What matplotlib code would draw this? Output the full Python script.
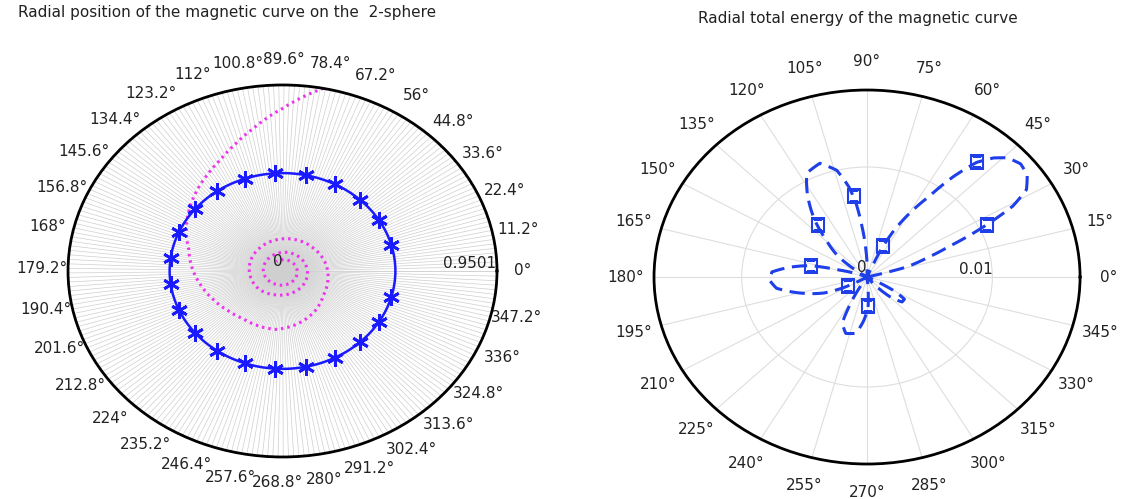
import numpy as np
import matplotlib.pyplot as plt

# left panel: radial position on the 2-sphere
star_top = [15.4, 31.1, 46.8, 62.5, 78.2, 93.9, 109.6, 125.3, 141.0, 156.7, 172.4]
star_theta = star_top + [360 - a for a in star_top[::-1]]
star_r = [0.5] * len(star_theta)

spiral_theta = [79, 90, 100, 108, 116, 125, 135, 145, 155, 165, 178, 191, 205, 220,
                234, 250, 264, 278, 290, 305, 325, 340, 360, 380, 400, 430, 454, 490,
                524, 580, 617, 650, 690, 720, 780, 840, 900, 960, 1020, 1080, 1140, 1200]
spiral_r = [0.9501, 0.83, 0.74, 0.68, 0.63, 0.59, 0.55, 0.51, 0.47, 0.43, 0.40, 0.37,
            0.34, 0.315, 0.30, 0.30, 0.30, 0.285, 0.27, 0.25, 0.22, 0.21, 0.20, 0.19,
            0.18, 0.17, 0.163, 0.155, 0.15, 0.14, 0.125, 0.12, 0.115, 0.11, 0.10, 0.09,
            0.085, 0.075, 0.07, 0.065, 0.06, 0.055]
r_max_left = 0.9501
left_ticks = [round(k * 11.2, 1) for k in range(32)]

# right panel: radial total energy
energy_theta = [0, 14, 16, 20, 23, 26, 29, 32, 36, 40, 44, 47, 50, 53, 56, 60, 63, 66, 68,
                88, 92, 95, 97.5, 100, 104, 110, 117, 122, 129, 134, 141, 148,
                158, 164, 167, 172, 176.5, 182, 188, 197, 203, 207, 211,
                236, 242, 244.6, 251.7, 260, 266.5, 272, 276,
                308, 312, 316, 321, 326, 330, 334, 360]
energy = [0, 0, 0.0032, 0.0051, 0.0071, 0.0102, 0.0133, 0.0150, 0.0158, 0.0160, 0.0156,
          0.0148, 0.0136, 0.0114, 0.0088, 0.0065, 0.0048, 0.0026, 0,
          0, 0.0024, 0.0046, 0.0068, 0.0083, 0.0100, 0.0110, 0.0106, 0.0090, 0.0066,
          0.0047, 0.0029, 0,
          0, 0.0023, 0.0046, 0.0063, 0.0076, 0.0078, 0.0073, 0.0051, 0.0037, 0.0022, 0,
          0, 0.0031, 0.0046, 0.0054, 0.0052, 0.0039, 0.0026, 0,
          0, 0.0014, 0.0027, 0.0036, 0.0036, 0.0024, 0, 0]
square_theta = [50, 26.3, 98, 129.6, 65.7, 167, 208, 272]
square_energy = [0.0136, 0.0107, 0.0074, 0.0061, 0.0031, 0.0046, 0.0017, 0.0026]
r_max_right = 0.017
right_ticks = list(range(0, 360, 15))

fig = plt.figure(figsize=(11.28, 4.99), dpi=100)
tick_fs = 11
txt = '#222222'


def smooth(line, steps=24):
    # let the polar transform bend each segment in (theta, r) space
    line.get_path()._interpolation_steps = steps
    return line


#Left_panel
ax1 = fig.add_axes([0.0603, 0.0842, 0.3803, 0.7455], projection='polar')
ax1.set_aspect('auto')
ax1.set_xticks(np.deg2rad(left_ticks))
ax1.set_xticklabels(['%g°' % t for t in left_ticks], fontsize=tick_fs, color=txt)
ax1.set_xticks(np.deg2rad(np.arange(0, 360, 1.4)), minor=True)
ax1.grid(which='both', axis='x', color='#cfcfcf', linewidth=0.5)
ax1.set_yticks([])
ax1.set_ylim(0, r_max_left)
ax1.tick_params(axis='x', which='major', pad=8)
ax1.tick_params(axis='x', which='minor', length=0)
ax1.spines['polar'].set_linewidth(2)
l, = ax1.plot(np.deg2rad(spiral_theta), spiral_r, color='#ee33ee',
              linestyle=(0, (0.8, 1.3)), linewidth=2.2)
smooth(l)
ring = star_theta + [star_theta[0] + 360]
l, = ax1.plot(np.deg2rad(ring), [0.5] * len(ring), color='#1a1aff', linewidth=1.8)
smooth(l)
ax1.plot(np.deg2rad(star_theta), star_r, linestyle='none', marker=(6, 2, 0),
         markersize=12, markeredgewidth=2, color='#1a1aff')
ax1.text(0, r_max_left * 0.995, '0.9501', ha='right', va='bottom', fontsize=tick_fs, color=txt)
ax1.text(np.pi / 2, 0.01, '0', ha='right', va='bottom', fontsize=tick_fs, color=txt)
fig.text(18 / 1128, 1 - 13 / 499, 'Radial position of the magnetic curve on the  2-sphere',
         ha='left', va='center', fontsize=11, color=txt)

#Right_panel
ax2 = fig.add_axes([0.5798, 0.0701, 0.3777, 0.7495], projection='polar')
ax2.set_aspect('auto')
ax2.set_xticks(np.deg2rad(right_ticks))
ax2.set_xticklabels(['%d°' % t for t in right_ticks], fontsize=tick_fs, color=txt)
ax2.set_yticks([0.01])
ax2.set_yticklabels([])
ax2.grid(color='#dedede', linewidth=0.8)
ax2.set_ylim(0, r_max_right)
ax2.tick_params(axis='x', pad=10)
ax2.spines['polar'].set_linewidth(2)
l, = ax2.plot(np.deg2rad(energy_theta), energy, color='#1f3fe8', linewidth=2.2,
              linestyle=(0, (5, 2.5)))
smooth(l)
ax2.plot(np.deg2rad(square_theta), square_energy, linestyle='none', marker='s',
         markersize=9, markerfacecolor='none', markeredgecolor='#1f3fe8', markeredgewidth=1.5)
ax2.text(0, 0.01, '0.01', ha='right', va='bottom', fontsize=tick_fs, color=txt)
ax2.text(np.pi / 2, 0.0002, '0', ha='right', va='bottom', fontsize=tick_fs, color=txt)
fig.text(858 / 1128, 1 - 18 / 499, 'Radial total energy of the magnetic curve',
         ha='center', va='center', fontsize=11, color=txt)

plt.savefig('out.png', dpi=100)
